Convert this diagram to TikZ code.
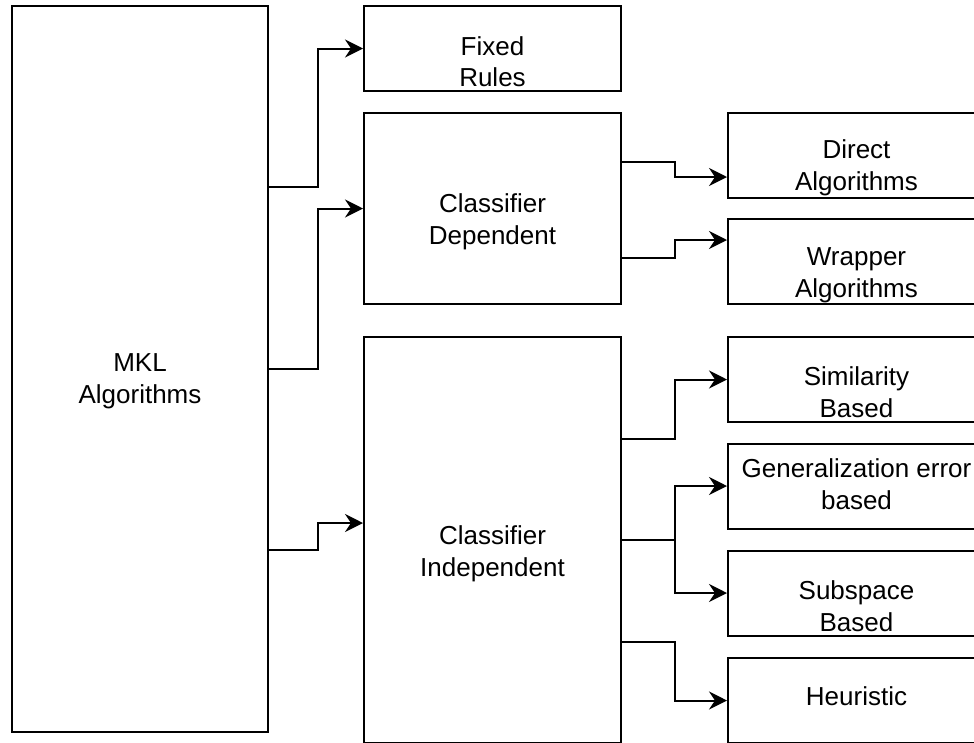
\documentclass[tikz,border=0pt]{standalone}
\usepackage{fontspec}
\setmainfont{Liberation Sans}
\usetikzlibrary{arrows.meta,positioning}

\tikzset{
  box/.style={draw, line width=2pt, inner sep=0pt,
              minimum width=257pt, minimum height=85pt},
  txt/.style={font=\fontsize{26}{31.5}\selectfont, align=center},
  arr/.style={line width=2pt, -{Stealth[length=18pt,width=18pt,inset=6pt]}},
  elbow/.style={to path={-- ++(#1,0) |- (\tikztotarget)}}
}

\begin{document}
\begin{tikzpicture}[x=1pt,y=-1pt]
  \useasboundingbox (0,0) rectangle (974,742);
  \clip (0,0) rectangle (974,742);

  % left column
  \node[box, minimum width=256pt, minimum height=726pt,
        label={[txt,yshift=-12pt]center:{MKL\\Algorithms}}] (mkl) at (140,369) {};

  % middle column
  \node[box, label={[txt,yshift=-13pt]center:{Fixed\\Rules}}] (fixed) at (492.5,48.5) {};
  \node[box, minimum height=191pt,
        label={[txt,yshift=-13.5pt]center:{Classifier\\Dependent}}] (dep) at (492.5,208.5) {};
  \node[box, minimum height=406pt,
        label={[txt,yshift=-14pt]center:{Classifier\\Independent}}] (indep) at (492.5,540) {};

  % right column
  \node[box, label={[txt,yshift=-12.5pt]center:{Direct\\Algorithms}}] (direct) at (856.5,155.5) {};
  \node[box, label={[txt,yshift=-13.5pt]center:{Wrapper\\Algorithms}}] (wrapper) at (856.5,261.5) {};
  \node[box, label={[txt,yshift=-12.5pt]center:{Similarity\\Based}}] (sim) at (856.5,379.5) {};
  \node[box, label={[txt,yshift=2pt]center:{Generalization error\\based}}] (gen) at (856.5,486) {};
  \node[box, label={[txt,yshift=-13pt]center:{Subspace\\Based}}] (sub) at (856.5,593) {};
  \node[box, label={[txt,yshift=4.5pt]center:{Heuristic}}] (heur) at (856.5,700.5) {};

  % connectors
  \draw[arr] ([yshift=182pt]mkl.east) to[elbow=49] (fixed.west);
  \draw[arr] (mkl.east) to[elbow=49] (dep.west);
  \draw[arr] ([yshift=-181pt]mkl.east) to[elbow=49] ([yshift=17pt]indep.west);

  \draw[arr] ([yshift=46.5pt]dep.east) to[elbow=53] ([yshift=-21.5pt]direct.west);
  \draw[arr] ([yshift=-49.5pt]dep.east) to[elbow=53] ([yshift=21.5pt]wrapper.west);

  \draw[arr] ([yshift=101pt]indep.east) to[elbow=53] (sim.west);
  \draw[arr] (indep.east) to[elbow=53] (gen.west);
  \draw[arr] (indep.east) to[elbow=53] (sub.west);
  \draw[arr] ([yshift=-102pt]indep.east) to[elbow=53] (heur.west);
\end{tikzpicture}
\end{document}
